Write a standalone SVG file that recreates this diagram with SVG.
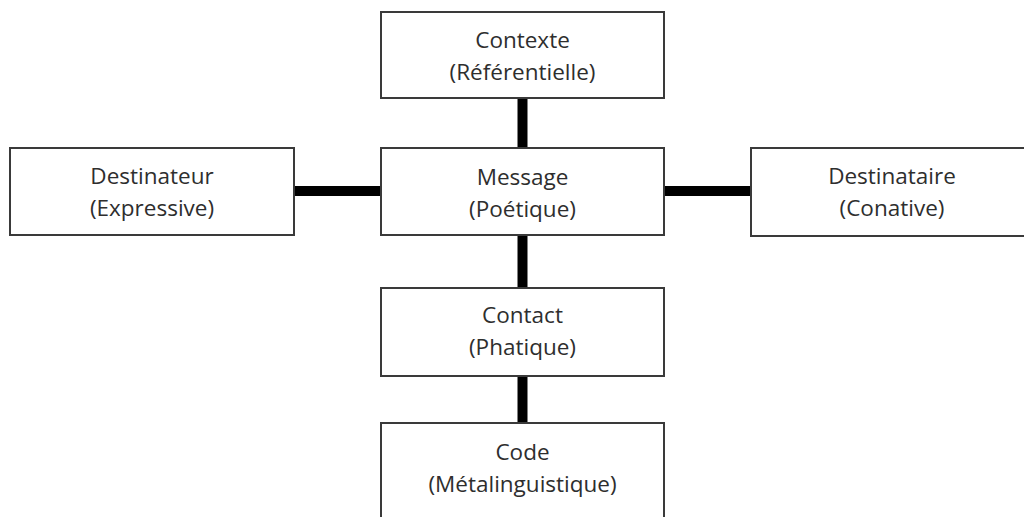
<svg xmlns="http://www.w3.org/2000/svg" width="1024" height="517" viewBox="0 0 1024 517">
<style>
.box{fill:#fff;stroke:#3a3a3a;stroke-width:2}
.lbl{font-family:"Open Sans","Liberation Sans",sans-serif;font-size:22.5px;fill:#2e2e2e;text-anchor:middle}
.conn{stroke:#000;stroke-width:10;fill:none}
</style>
<rect width="1024" height="517" fill="#fff"/>
<g id="connectors">
<line class="conn" x1="522.5" y1="99" x2="522.5" y2="147"/>
<line class="conn" x1="295" y1="191" x2="380" y2="191"/>
<line class="conn" x1="665" y1="191" x2="750" y2="191"/>
<line class="conn" x1="522.5" y1="236" x2="522.5" y2="287"/>
<line class="conn" x1="522.5" y1="377" x2="522.5" y2="422"/>
</g>
<g id="contexte">
<rect class="box" x="381" y="12" width="283" height="86"/>
<text class="lbl" x="522.5" y="48">Contexte</text>
<text class="lbl" x="522.5" y="80">(Référentielle)</text>
</g>
<g id="message">
<rect class="box" x="381" y="148" width="283" height="87"/>
<text class="lbl" x="522.5" y="185">Message</text>
<text class="lbl" x="522.5" y="217">(Poétique)</text>
</g>
<g id="destinateur">
<rect class="box" x="10" y="148" width="284" height="87"/>
<text class="lbl" x="152" y="184">Destinateur</text>
<text class="lbl" x="152" y="216">(Expressive)</text>
</g>
<g id="destinataire">
<rect class="box" x="751" y="148" width="290" height="88"/>
<text class="lbl" x="892" y="184">Destinataire</text>
<text class="lbl" x="892" y="216">(Conative)</text>
</g>
<g id="contact">
<rect class="box" x="381" y="288" width="283" height="88"/>
<text class="lbl" x="522.5" y="323">Contact</text>
<text class="lbl" x="522.5" y="355">(Phatique)</text>
</g>
<g id="code">
<rect class="box" x="381" y="423" width="283" height="120"/>
<text class="lbl" x="522.5" y="460">Code</text>
<text class="lbl" x="522.5" y="492">(Métalinguistique)</text>
</g>
</svg>
